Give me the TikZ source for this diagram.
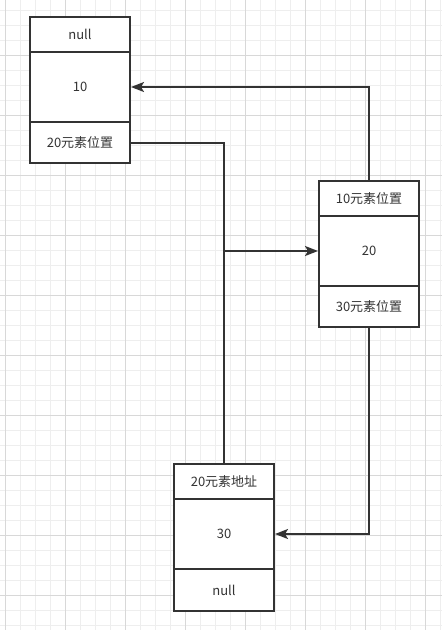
\documentclass[tikz,border=0pt]{standalone}
\usepackage{fontspec}
\setmainfont{Noto Sans CJK SC}
\usetikzlibrary{arrows.meta,calc}
\definecolor{ink}{HTML}{333333}
\definecolor{gridminor}{HTML}{EEEEEE}
\definecolor{gridmajor}{HTML}{D8D8D8}
\tikzset{
  cell/.style={draw=ink, line width=2pt, fill=white, minimum width=100pt, inner sep=0pt, text=ink, font=\fontsize{13pt}{15pt}\selectfont},
  conn/.style={draw=ink, line width=2pt},
  tip/.style={-{Stealth[length=13pt,width=10pt,inset=3pt]}}
}
\begin{document}
\begin{tikzpicture}[x=1pt,y=-1pt]
\useasboundingbox (0,0) rectangle (442,630);
\fill[white] (0,0) rectangle (442,630);
% grid
\foreach \x in {5,20,...,440} \draw[gridminor, line width=1pt] (\x,0) -- (\x,630);
\foreach \y in {10,25,...,630} \draw[gridminor, line width=1pt] (0,\y) -- (442,\y);
\foreach \x in {5,65,...,440} \draw[gridmajor, line width=1pt] (\x,0) -- (\x,630);
\foreach \y in {55,115,...,630} \draw[gridmajor, line width=1pt] (0,\y) -- (442,\y);
% box A
\node[cell, minimum height=35pt] (a1) at (80,34.5) {null};
\node[cell, minimum height=70pt] (a2) at (80,87) {10};
\node[cell, minimum height=41pt] (a3) at (80,142.5) {20元素位置};
% box B
\node[cell, minimum height=35pt] (b1) at (369,198.5) {10元素位置};
\node[cell, minimum height=70pt] (b2) at (369,251) {20};
\node[cell, minimum height=41pt] (b3) at (369,306.5) {30元素位置};
% box C
\node[cell, minimum height=35pt] (c1) at (224,481.5) {20元素地址};
\node[cell, minimum height=70pt] (c2) at (224,534) {30};
\node[cell, minimum height=42pt] (c3) at (224,590) {null};
% connectors
\coordinate (j) at (224,251);
\draw[conn, tip] (b1.north) |- (a2.east);
\draw[conn, tip] (a3.east) -| (j) -- (b2.west);
\draw[conn] (c1.north) -- (j);
\draw[conn, tip] (b3.south) |- (c2.east);
\end{tikzpicture}
\end{document}
